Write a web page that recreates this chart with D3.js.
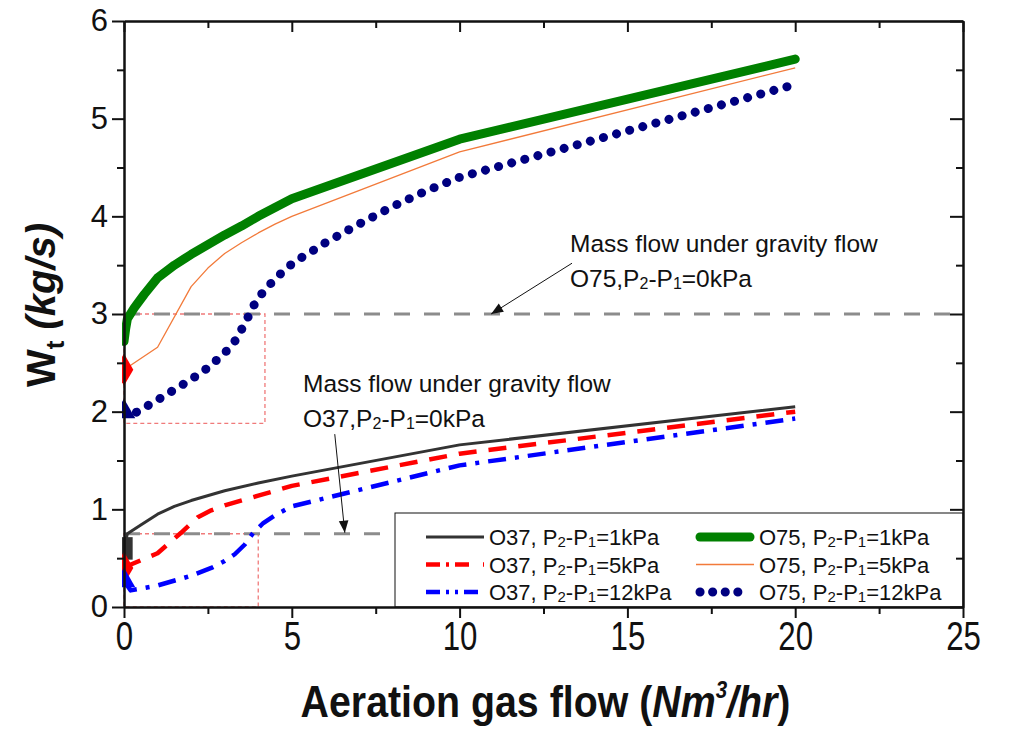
<!DOCTYPE html>
<html>
<head>
<meta charset="utf-8">
<script src="https://cdn.jsdelivr.net/npm/d3@7"></script>
<style>
  body { margin: 0; background: #fff; }
  .tickX text { font-family: "Liberation Sans", Arial, sans-serif; font-size: 40px; }
  .tickY text { font-family: "Liberation Sans", Arial, sans-serif; font-size: 31px; }
  .note { font-family: "Liberation Sans", Arial, sans-serif; font-size: 24.5px; fill: #111; }
  .leg { font-family: "Liberation Sans", Arial, sans-serif; font-size: 22px; fill: #111; }
</style>
</head>
<body>
<svg id="chart"></svg>
<script>
// x = aeration gas flow (Nm3/hr), y = Wt (kg/s)
var o37_1kPa_x = [0, 0.1, 0.5, 1, 1.5, 2, 3, 4, 5, 10, 20];
var o37_1kPa_y = [0.6, 0.75, 0.84, 0.95, 1.03, 1.09, 1.19, 1.27, 1.34, 1.66, 2.05];

var o37_5kPa_x = [0, 0.1, 1, 1.7, 2.2, 2.6, 3, 4, 5, 10, 20];
var o37_5kPa_y = [0.4, 0.42, 0.55, 0.76, 0.92, 0.99, 1.04, 1.14, 1.24, 1.57, 2.0];

var o37_12kPa_x = [0, 0.2, 1, 2, 2.6, 3, 3.3, 3.6, 3.85, 4.15, 4.5, 5, 10, 20];
var o37_12kPa_y = [0.27, 0.17, 0.22, 0.32, 0.4, 0.47, 0.54, 0.64, 0.76, 0.86, 0.94, 1.03, 1.45, 1.93];

var o75_1kPa_x = [0, 0.05, 0.1, 0.3, 0.6, 1, 1.5, 2, 2.5, 3, 3.5, 4, 4.5, 5, 10, 20];
var o75_1kPa_y = [2.72, 2.85, 2.95, 3.06, 3.2, 3.37, 3.5, 3.61, 3.71, 3.81, 3.9, 4.0, 4.09, 4.18, 4.79, 5.61];

var o75_5kPa_x = [0, 1, 2, 2.5, 3, 3.5, 4, 4.5, 5, 10, 20];
var o75_5kPa_y = [2.43, 2.66, 3.28, 3.47, 3.62, 3.73, 3.83, 3.92, 4.0, 4.66, 5.52];

var o75_12kPa_x = [0, 0.25, 1, 2, 2.5, 3, 3.3, 3.6, 3.85, 4.15, 4.45, 4.75, 5.1, 5.5, 6, 7, 8, 9, 10, 20];
var o75_12kPa_y = [2.0, 1.97, 2.12, 2.33, 2.45, 2.6, 2.72, 2.9, 3.08, 3.23, 3.34, 3.44, 3.54, 3.62, 3.73, 3.92, 4.1, 4.26, 4.4, 5.35];

// gravity flow levels and zoom boxes [x0, x1, y0, y1]
var gravityLevels = [3, 0.75];
var zoomBoxes = [[0, 4.2, 1.88, 3.0], [0, 4.0, 0, 0.75]];

var xMajor = [0, 5, 10, 15, 20, 25];
var xMinor = [2.5, 7.5, 12.5, 17.5, 22.5];
var yMajor = [0, 1, 2, 3, 4, 5, 6];
var yMinor = [0.5, 1.5, 2.5, 3.5, 4.5, 5.5];

var series = [
  { name: "O37", dp: "1", xs: o37_1kPa_x, ys: o37_1kPa_y, color: "#333333", width: 3, dash: null, cap: "butt", sym: d3.symbolSquare },
  { name: "O75", dp: "1", xs: o75_1kPa_x, ys: o75_1kPa_y, color: "#008000", width: 9, dash: null, cap: "round", sym: null },
  { name: "O37", dp: "5", xs: o37_5kPa_x, ys: o37_5kPa_y, color: "#ff0000", width: 4.5, dash: "18,12", cap: "butt", sym: d3.symbolDiamond },
  { name: "O75", dp: "5", xs: o75_5kPa_x, ys: o75_5kPa_y, color: "#f27a3a", width: 1.3, dash: null, cap: "butt", sym: d3.symbolDiamond, symColor: "#ff0000" },
  { name: "O37", dp: "12", xs: o37_12kPa_x, ys: o37_12kPa_y, color: "#0000ff", width: 4.5, dash: "18,9,4,9", cap: "butt", sym: d3.symbolTriangle },
  { name: "O75", dp: "12", xs: o75_12kPa_x, ys: o75_12kPa_y, color: "#000080", width: 9, dash: "0.1,13.5", cap: "round", sym: d3.symbolTriangle }
];

var screen = { width: 1012, height: 731 };
var margins = { top: 21, bottom: 124, left: 124, right: 49 };
var graph = {
  width: screen.width - margins.left - margins.right,
  height: screen.height - margins.top - margins.bottom
};

var svg = d3.select("#chart").attr("width", screen.width).attr("height", screen.height);

var xScale = d3.scaleLinear().domain([0, 25]).range([0, graph.width]);
var yScale = d3.scaleLinear().domain([0, 6]).range([graph.height, 0]);

var defs = svg.append("defs");
defs.append("clipPath").attr("id", "plotClip")
  .append("rect").attr("x", -2).attr("width", graph.width + 2).attr("height", graph.height);

var g = svg.append("g")
  .attr("transform", "translate(" + margins.left + "," + margins.top + ")");

//zoom boxes//
zoomBoxes.forEach(function (b) {
  g.append("rect")
    .attr("x", xScale(b[0]))
    .attr("y", yScale(b[3]))
    .attr("width", xScale(b[1]) - xScale(b[0]))
    .attr("height", yScale(b[2]) - yScale(b[3]))
    .attr("fill", "none")
    .attr("stroke", "#f07a7a")
    .attr("stroke-width", 1.3)
    .attr("stroke-dasharray", "4,3");
});

//gravity lines//
g.append("line")
  .attr("x1", 0).attr("x2", graph.width)
  .attr("y1", yScale(gravityLevels[0])).attr("y2", yScale(gravityLevels[0]))
  .attr("stroke", "#8c8c8c").attr("stroke-width", 3.2).attr("stroke-dasharray", "16,14");
g.append("line")
  .attr("x1", 0).attr("x2", xScale(8))
  .attr("y1", yScale(gravityLevels[1])).attr("y2", yScale(gravityLevels[1]))
  .attr("stroke", "#8c8c8c").attr("stroke-width", 3.2).attr("stroke-dasharray", "16,14");

//curves//
var line = d3.line()
  .x(function (d) { return xScale(d[0]); })
  .y(function (d) { return yScale(d[1]); });

var plot = g.append("g").attr("clip-path", "url(#plotClip)");
series.forEach(function (s) {
  var pts = s.xs.map(function (v, i) { return [v, s.ys[i]]; });
  plot.append("path")
    .datum(pts)
    .attr("d", line)
    .attr("fill", "none")
    .attr("stroke", s.color)
    .attr("stroke-width", s.width)
    .attr("stroke-linecap", s.cap)
    .attr("stroke-linejoin", "round")
    .attr("stroke-dasharray", s.dash);
  if (s.sym) {
    plot.append("path")
      .attr("d", d3.symbol().type(s.sym).size(s.sym === d3.symbolTriangle ? 220 : 300))
      .attr("transform", "translate(" + xScale(pts[0][0]) + "," + yScale(pts[0][1]) + ")" +
        (s.sym === d3.symbolSquare ? " scale(1,1.3)" : ""))
      .attr("fill", s.symColor || s.color);
  }
});

//arrows//
defs.append("marker")
  .attr("id", "arrow")
  .attr("viewBox", "0 0 10 10")
  .attr("refX", 10).attr("refY", 5)
  .attr("markerWidth", 20).attr("markerHeight", 12)
  .attr("markerUnits", "userSpaceOnUse")
  .attr("orient", "auto")
  .append("path").attr("d", "M0,1 L10,5 L0,9 Z").attr("fill", "#111");

g.append("line")
  .attr("x1", xScale(13.35)).attr("y1", yScale(3.52))
  .attr("x2", xScale(10.94)).attr("y2", yScale(3.0))
  .attr("stroke", "#111").attr("stroke-width", 1)
  .attr("marker-end", "url(#arrow)");
g.append("line")
  .attr("x1", xScale(6.28)).attr("y1", yScale(1.77))
  .attr("x2", xScale(6.58)).attr("y2", yScale(0.76))
  .attr("stroke", "#111").attr("stroke-width", 1)
  .attr("marker-end", "url(#arrow)");

//annotation text//
var addSubLabel = function (sel, parts, subSize) {
  parts.forEach(function (p) {
    var t = sel.append("tspan").text(p[0]);
    if (p[1]) t.attr("font-size", subSize).attr("dy", 2);
    else if (p[2]) t.attr("dy", -2);
  });
};
var note = function (x, y, first, model) {
  g.append("text").attr("class", "note").attr("x", x).attr("y", y).text(first);
  var t = g.append("text").attr("class", "note").attr("x", x).attr("y", y + 35);
  addSubLabel(t, [[model + ",P"], ["2", true], ["-P", false, true], ["1", true], ["=0kPa", false, true]], "16px");
};
note(446, 231, "Mass flow under gravity flow", "O75");
note(179, 371, "Mass flow under gravity flow", "O37");

//legend//
var leg = g.append("g").classed("legend", true);
leg.append("rect")
  .attr("x", 395 - margins.left).attr("y", 513 - margins.top)
  .attr("width", graph.width - (395 - margins.left))
  .attr("height", graph.height - (513 - margins.top))
  .attr("fill", "#fff").attr("stroke", "#111").attr("stroke-width", 1);

var legendDash = ["", "", "14,6,3,6,14", "", "14,6,3,6,3,6,14", "0.1,12.5"];
series.forEach(function (s, i) {
  var col = i % 2;
  var row = Math.floor(i / 2);
  var lx = (col === 0 ? 426 : 696) - margins.left;
  var ly = 537 + row * 27.5 - margins.top;
  leg.append("line")
    .attr("x1", lx + (s.cap === "round" ? 4 : 0)).attr("x2", lx + 58 - (s.cap === "round" ? 4 : 0))
    .attr("y1", ly).attr("y2", ly)
    .attr("stroke", s.color)
    .attr("stroke-width", s.width)
    .attr("stroke-linecap", s.cap)
    .attr("stroke-dasharray", legendDash[i] || null);
  var t = leg.append("text").attr("class", "leg")
    .attr("x", lx + 63).attr("y", ly + 8);
  addSubLabel(t, [[s.name + ", P"], ["2", true], ["-P", false, true], ["1", true], ["=" + s.dp + "kPa", false, true]], "15px");
});

//axes//
var axes = g.append("g").classed("axes", true);
axes.append("g").classed("tickX", true)
  .attr("transform", "translate(0," + graph.height + ")")
  .call(d3.axisBottom(xScale).tickValues(xMajor).tickSize(11).tickSizeOuter(0).tickPadding(4).tickFormat(d3.format("d")));
axes.selectAll(".tickX text").attr("transform", "scale(0.78,1)");
axes.append("g")
  .attr("transform", "translate(0," + graph.height + ")")
  .call(d3.axisBottom(xScale).tickValues(xMinor).tickSize(7).tickSizeOuter(0).tickFormat(""));
axes.append("g")
  .call(d3.axisBottom(xScale).tickValues(xMajor).tickSize(11).tickSizeOuter(0).tickFormat(""));
axes.append("g")
  .call(d3.axisBottom(xScale).tickValues(xMinor).tickSize(7).tickSizeOuter(0).tickFormat(""));
axes.append("g").classed("tickY", true)
  .call(d3.axisLeft(yScale).tickValues(yMajor).tickSize(12).tickSizeOuter(0).tickPadding(4).tickFormat(d3.format("d")));
axes.append("g")
  .call(d3.axisLeft(yScale).tickValues(yMinor).tickSize(7).tickSizeOuter(0).tickFormat(""));
axes.append("g")
  .attr("transform", "translate(" + graph.width + ",0)")
  .call(d3.axisLeft(yScale).tickValues(yMajor).tickSize(13).tickSizeOuter(0).tickFormat(""));
axes.append("g")
  .attr("transform", "translate(" + graph.width + ",0)")
  .call(d3.axisLeft(yScale).tickValues(yMinor).tickSize(7).tickSizeOuter(0).tickFormat(""));
axes.selectAll("path.domain").attr("stroke", "#111").attr("stroke-width", 2);
axes.selectAll(".tick line").attr("stroke", "#111").attr("stroke-width", 2);
axes.selectAll(".tick text").attr("fill", "#111");

//titles//
var xtG = svg.append("g")
  .attr("transform", "translate(" + (margins.left + graph.width / 2 + 2) + ",717)");
var xt = xtG.append("text")
  .attr("text-anchor", "middle")
  .style("font-family", "'Liberation Sans', Arial, sans-serif")
  .style("font-weight", "bold")
  .style("font-size", "44px")
  .attr("fill", "#111");
xt.append("tspan").text("Aeration gas flow (");
xt.append("tspan").text("Nm").style("font-style", "italic");
xt.append("tspan").text("3").style("font-style", "italic").attr("font-size", "23px").attr("dy", -19);
xt.append("tspan").text("/hr").style("font-style", "italic").attr("dy", 19);
xt.append("tspan").text(")");
var xtWidth = xt.node().getComputedTextLength();
xt.attr("transform", "scale(" + (490 / xtWidth) + ",1)");

var yt = svg.append("text")
  .attr("transform", "translate(55,305) rotate(-90)")
  .attr("text-anchor", "middle")
  .style("font-family", "'Liberation Sans', Arial, sans-serif")
  .style("font-weight", "bold")
  .style("font-size", "40px")
  .attr("fill", "#111");
yt.append("tspan").text("W");
yt.append("tspan").text("t").attr("font-size", "26px").attr("dy", 9);
yt.append("tspan").text(" (kg/s)").style("font-style", "italic").attr("dy", -9);
</script>
</body>
</html>
